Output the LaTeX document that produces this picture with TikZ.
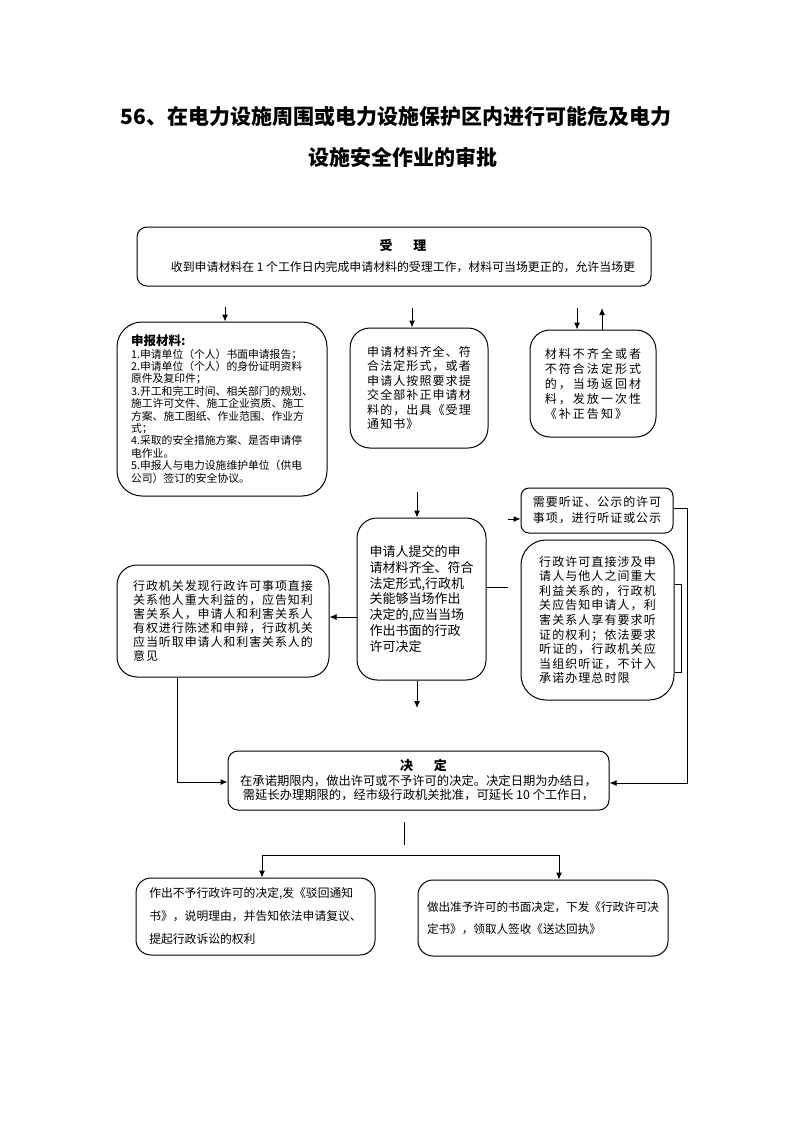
\documentclass[tikz,border=0pt]{standalone}
\usepackage{fontspec}
\setmainfont{Noto Sans CJK SC}
\newfontfamily\lsa[LetterSpace=7.5]{Noto Sans CJK SC}
\newfontfamily\lsb[LetterSpace=9]{Noto Sans CJK SC}
\newfontfamily\lsd[LetterSpace=17]{Noto Sans CJK SC}
\usetikzlibrary{arrows.meta}
\begin{document}
\begin{tikzpicture}[x=1pt,y=-1pt,
  box/.style={draw, line width=1pt, inner sep=0pt, align=left},
  arr/.style={-{Latex[length=7pt,width=6pt]}, line width=1pt},
  ln/.style={line width=1pt}]
\useasboundingbox[fill=white] (0,0) rectangle (793,1122);

% title
\node[font=\fontsize{21}{25}\selectfont\bfseries] (t1) at (396,117) {56、在电力设施周围或电力设施保护区内进行可能危及电力};
\node[font=\fontsize{21}{25}\selectfont\bfseries] (t2) at (403,157) {设施安全作业的审批};

% boxes
\node[box, rounded corners=10pt, minimum width=514pt, minimum height=59pt, align=center,
      font=\fontsize{11.9}{21}\selectfont] (b1) at (394,256.5)
  {\hspace*{18pt}{\fontsize{13}{21}\selectfont\bfseries 受\hspace{1.6em}理}\\\hspace*{18pt}收到申请材料在 1 个工作日内完成申请材料的受理工作，材料可当场更正的，允许当场更};

\node[box, rounded corners=25pt, minimum width=210pt, minimum height=174pt,
      font=\fontsize{10.8}{12.4}\selectfont] (b2) at (222,409)
  {{\fontsize{12.5}{12.4}\selectfont\bfseries 申报材料:}\\
   1.申请单位（个人）书面申请报告；\\
   2.申请单位（个人）的身份证明资料\\
   原件及复印件；\\
   3.开工和完工时间、相关部门的规划、\\
   施工许可文件、施工企业资质、施工\\
   方案、施工图纸、作业范围、作业方\\
   式；\\
   4.采取的安全措施方案、是否申请停\\
   电作业。\\
   5.申报人与电力设施维护单位（供电\\
   公司）签订的安全协议。};

\node[box, rounded corners=20pt, minimum width=138pt, minimum height=120pt,
      font=\lsb\fontsize{12}{14.5}\selectfont] (b3) at (419,388)
  {申请材料齐全、符\\合法定形式，或者\\申请人按照要求提\\交全部补正申请材\\料的，出具《受理\\通知书》};

\node[box, rounded corners=20pt, minimum width=126pt, minimum height=107pt,
      font=\lsd\fontsize{12}{15}\selectfont] (b4) at (593,383.5)
  {材料不齐全或者\\不符合法定形式\\的，当场返回材\\料，发放一次性\\《补正告知》};

\node[box, rounded corners=8pt, minimum width=152pt, minimum height=45pt,
      font=\lsa\fontsize{12}{16}\selectfont] (b5) at (597,510.5)
  {需要听证、公示的许可\\事项，进行听证或公示};

\node[box, rounded corners=25pt, minimum width=153pt, minimum height=160pt,
      font=\lsb\fontsize{12}{14.6}\selectfont] (b6) at (597.5,620)
  {行政许可直接涉及申\\请人与他人之间重大\\利益关系的，行政机\\关应告知申请人，利\\害关系人享有要求听\\证的权利；依法要求\\听证的，行政机关应\\当组织听证，不计入\\承诺办理总时限};

\node[box, rounded corners=20pt, minimum width=129pt, minimum height=162pt,
      font=\fontsize{13}{15.7}\selectfont] (b7) at (421.5,599)
  {申请人提交的申\\请材料齐全、符合\\法定形式,行政机\\关能够当场作出\\决定的,应当当场\\作出书面的行政\\许可决定};

\node[box, rounded corners=20pt, minimum width=212pt, minimum height=112pt,
      font=\lsa\fontsize{12}{14}\selectfont] (b8) at (223,621)
  {行政机关发现行政许可事项直接\\关系他人重大利益的，应告知利\\害关系人，申请人和利害关系人\\有权进行陈述和申辩，行政机关\\应当听取申请人和利害关系人的\\意见};

\node[box, rounded corners=10pt, minimum width=381pt, minimum height=59pt, align=center,
      font=\fontsize{12.3}{14.5}\selectfont] (b9) at (418.5,780.5)
  {{\fontsize{13}{14.5}\selectfont\bfseries \hspace*{10pt}决\hspace{1.6em}定}\\
   在承诺期限内，做出许可或不予许可的决定。决定日期为办结日，\\
   需延长办理期限的，经市级行政机关批准，可延长 10 个工作日，};

\node[box, rounded corners=15pt, minimum width=239pt, minimum height=77pt,
      font=\fontsize{11.8}{23}\selectfont] (b10) at (255.5,916.5)
  {作出不予行政许可的决定,发《驳回通知\\书》，说明理由，并告知依法申请复议、\\提起行政诉讼的权利};

\node[box, rounded corners=15pt, minimum width=250pt, minimum height=76pt,
      font=\fontsize{11.6}{22}\selectfont] (b11) at (543,918)
  {做出准予许可的书面决定，下发《行政许可决\\定书》，领取人签收《送达回执》};

% connectors
\coordinate (a1) at (225,307);
\draw[arr] (a1) -- (a1 |- b2.north);
\coordinate (a2) at (412,308);
\draw[arr] (a2) -- (a2 |- b3.north);
\coordinate (a3) at (577,308);
\draw[arr] (a3) -- (a3 |- b4.north);
\coordinate (a4) at (602,308);
\draw[arr] (a4 |- b4.north) -- (a4);
\coordinate (a5) at (417,492);
\draw[arr] (a5) -- (a5 |- b7.north);
\coordinate (a6) at (417,708);
\draw[arr] (a6 |- b7.south) -- (a6);
\coordinate (a7) at (340,617);
\draw[arr] (b7.west |- a7) -- (b8.east |- a7);
\coordinate (a8) at (508,587);
\draw[ln] (b7.east |- a8) -- (a8);
\coordinate (a9) at (508,519);
\draw[arr] (a9) -- (b5.west |- a9);
\coordinate (r1) at (687,508);
\coordinate (r2) at (687,783);
\draw[arr] (b5.east |- r1) -- (r1) -- (r2) -- (b9.east |- r2);
\coordinate (k1) at (681,584);
\coordinate (k2) at (681,672);
\draw[ln] (b6.east |- k1) -- (k1) -- (k2) -- (b6.east |- k2);
\coordinate (l1) at (177,782);
\draw[arr] (b8.south -| l1) -- (l1) -- (b9.west |- l1);
\coordinate (m1) at (404,822);
\coordinate (m2) at (404,845);
\draw[ln] (m1) -- (m2);
\coordinate (s1) at (262,855);
\coordinate (s2) at (559,855);
\draw[ln] (s1) -- (s2);
\draw[arr] (s1) -- (s1 |- b10.north);
\draw[arr] (s2) -- (s2 |- b11.north);
\end{tikzpicture}
\end{document}
